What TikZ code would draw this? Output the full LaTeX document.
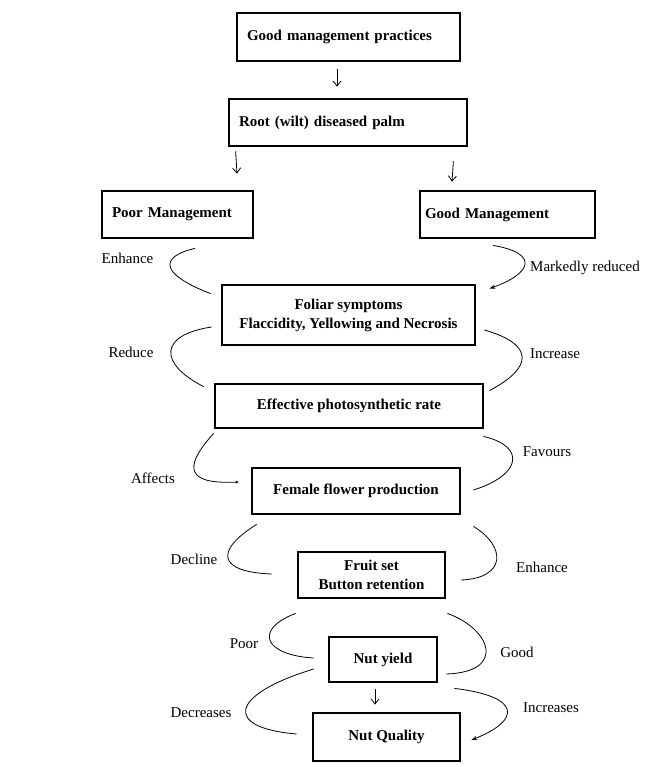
\documentclass[tikz,border=0pt]{standalone}
\usepackage{fontspec}
\setmainfont{Liberation Serif}
\usetikzlibrary{arrows.meta,calc}
\begin{document}
\begin{tikzpicture}[x=1pt,y=-1pt,
  box/.style={draw,line width=2.8pt,rectangle,font=\fontsize{15}{19}\selectfont\bfseries,inner sep=0pt,align=center},
  lbl/.style={font=\fontsize{15}{18}\selectfont},
  curve/.style={line width=0.8pt},
  curvearrow/.style={line width=0.8pt,-{Stealth[length=6pt,width=4pt]}},
  smallarrow/.style={line width=0.8pt,-{Stealth[length=3pt,width=3pt]}},
  darrow/.style={line width=0.8pt,-{Straight Barb[length=5pt,width=8pt]}}]
\useasboundingbox[fill=white] (0,0) rectangle (667,767);
% boxes
\node[box,minimum width=223pt,minimum height=48pt,text width=203pt,align=left] (gmp) at (348.5,37) {Good management practices};
\node[box,minimum width=238pt,minimum height=47pt,text width=218pt,align=left] (root) at (348,122.5) {Root (wilt) diseased palm};
\node[box,minimum width=151pt,minimum height=47pt,text width=131pt,align=left] (poor) at (177.5,214.5) {Poor Management};
\node[box,minimum width=175pt,minimum height=47pt,text width=165pt,align=left] (good) at (507.5,214.5) {Good Management};
\node[box,minimum width=253pt,minimum height=60pt] (foliar) at (348.5,315) {Foliar symptoms\\Flaccidity, Yellowing and Necrosis};
\node[box,minimum width=268pt,minimum height=44pt] (eff) at (349,406) {Effective photosynthetic rate};
\node[box,minimum width=208pt,minimum height=46pt] (female) at (356,491) {Female flower production};
\node[box,minimum width=147pt,minimum height=46pt] (fruit) at (371.5,575) {Fruit set\\Button retention};
\node[box,minimum width=108pt,minimum height=45pt] (nut) at (383,659.5) {Nut yield};
\node[box,minimum width=147pt,minimum height=48pt] (nq) at (386.5,737) {Nut Quality};
% straight arrows
\draw[darrow] ([shift={(-11.5,7)}]gmp.south) -- ([shift={(-11,-11)}]root.north);
\draw[darrow] ([shift={(8,4)}]root.south west) -- ([shift={(59.5,-16)}]poor.north);
\draw[darrow] ([shift={(-15,14)}]root.south east) -- ([shift={(-55.5,-8)}]good.north);
\draw[darrow] ([shift={(-8,6)}]nut.south) -- ([shift={(-11.5,-7)}]nq.north);
% curves
\draw[curve] ([shift={(17.5,9)}]poor.south) .. controls +(-35,8) and +(-52,-20) .. ([shift={(-10,10)}]foliar.north west);
\draw[curvearrow] ([shift={(-14.5,6)}]good.south) .. controls +(47,8) and +(42,-15) .. ([shift={(13,5)}]foliar.north east);
\draw[curve] ([shift={(-9,12)}]foliar.west) .. controls +(-53,8) and +(-45,-23) .. ([shift={(-10,4)}]eff.north west);
\draw[curve] ([shift={(8,15)}]foliar.east) .. controls +(52,15) and +(42,-22) .. ([shift={(5,8)}]eff.north east);
\draw[smallarrow] ([shift={(0,4)}]eff.south west) .. controls +(-25,28) and +(-60,3) .. ([shift={(-12,-9)}]female.west);
\draw[curve] ([shift={(-1,7)}]eff.south east) .. controls +(43,10) and +(48,-15) .. ([shift={(12,-1)}]female.east);
\draw[curve] ([shift={(6,9)}]female.south west) .. controls +(-43,27) and +(-53,-2) .. ([shift={(-25,-1)}]fruit.west);
\draw[curve] ([shift={(12,11)}]female.south east) .. controls +(33,20) and +(45,-2) .. ([shift={(15,5)}]fruit.east);
\draw[curve] ([shift={(-1,14)}]fruit.south west) .. controls +(-42,16) and +(-50,-3) .. ([shift={(-14,-1.5)}]nut.west);
\draw[curve] ([shift={(1,14)}]fruit.south east) .. controls +(44,16) and +(60,-2) .. ([shift={(8,14.5)}]nut.east);
\draw[curve] ([shift={(-14,9.5)}]nut.west) .. controls +(-85,26) and +(-73,-6) .. ([shift={(-15,-3)}]nq.west);
\draw[curvearrow] ([shift={(16,5)}]nut.south east) .. controls +(67,8) and +(50,-20) .. ([shift={(10,3)}]nq.east);
% labels
\node[lbl] (l1) at (127.5,258) {Enhance};
\node[lbl] (l2) at (585,268) {Markedly reduced};
\node[lbl] (l3) at (131,352) {Reduce};
\node[lbl] (l4) at (555,354) {Increase};
\node[lbl] (l5) at (153,478) {Affects};
\node[lbl] (l6) at (547,452) {Favours};
\node[lbl] (l7) at (194,559) {Decline};
\node[lbl] (l8) at (542,567) {Enhance};
\node[lbl] (l9) at (244,644) {Poor};
\node[lbl] (l10) at (517,652) {Good};
\node[lbl] (l11) at (201,713) {Decreases};
\node[lbl] (l12) at (551,708) {Increases};
\end{tikzpicture}
\end{document}
